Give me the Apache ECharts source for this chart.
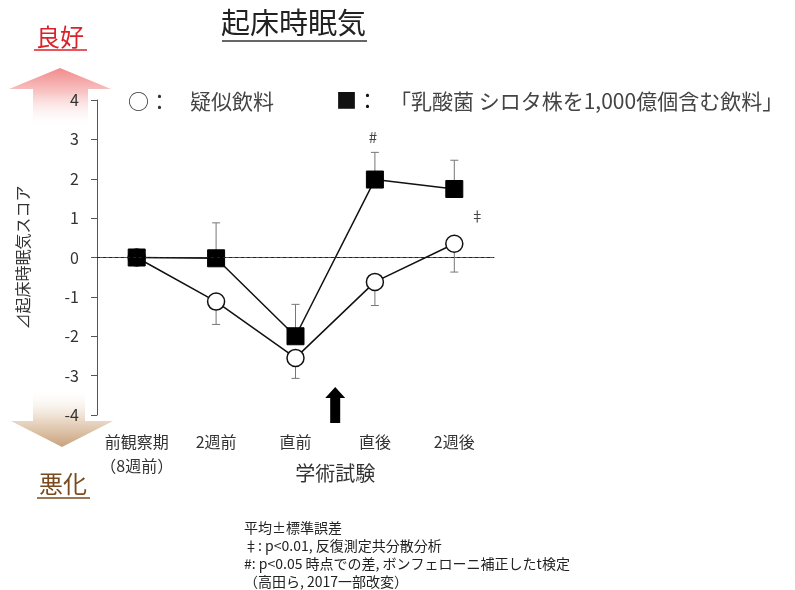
<!DOCTYPE html>
<html>
<head>
<meta charset="utf-8">
<script src="https://cdn.jsdelivr.net/npm/echarts@6/dist/echarts.min.js"></script>
<style>
html, body { margin: 0; background: #fff; }
#main { width: 795px; height: 590px; }
</style>
</head>
<body>
<div id="main"></div>
<script>
// データ
var categories = ['前観察期\n（8週前）', '2週前', '直前', '直後', '2週後'];
var placeboValues = [0, -1.12, -2.55, -0.62, 0.35];      // ○ 疑似飲料
var placeboErrLow = [null, -1.70, -3.07, -1.22, -0.37];   // 下側エラーバー
var shirotaValues = [0, -0.02, -2.0, 1.98, 1.74];         // ■ 乳酸菌飲料
var shirotaErrHigh = [null, 0.88, -1.19, 2.67, 2.47];     // 上側エラーバー
var yMin = -4, yMax = 4;
var FONT = '"Noto Sans CJK JP", "Noto Sans", sans-serif';

var chart = echarts.init(document.getElementById('main'));

// エラーバー描画 [x, 点, 端]
function errorBar(params, api) {
	var p1 = api.coord([api.value(0), api.value(1)]);
	var p2 = api.coord([api.value(0), api.value(2)]);
	var half = 4;
	return {
		type: 'group',
		children: [
			{ type: 'line', shape: { x1: p1[0], y1: p1[1], x2: p2[0], y2: p2[1] }, style: { stroke: '#777', lineWidth: 1 } },
			{ type: 'line', shape: { x1: p2[0] - half, y1: p2[1], x2: p2[0] + half, y2: p2[1] }, style: { stroke: '#777', lineWidth: 1 } }
		]
	};
}

function barData(vals, ends) {
	var out = [];
	for (var i = 0; i < vals.length; i++) {
		if (ends[i] !== null) out.push([i, vals[i], ends[i]]);
	}
	return out;
}

var option = {
	backgroundColor: '#fff',
	animation: false,
	textStyle: { fontFamily: FONT },
	grid: { left: 97, right: 301, top: 100, bottom: 175 },
	xAxis: {
		type: 'category',
		data: categories,
		axisLine: { lineStyle: { color: '#555', width: 1 } },
		axisTick: { length: 6, lineStyle: { color: '#555' } },
		axisLabel: { interval: 0, color: '#333', fontSize: 16, margin: 15, lineHeight: 24, fontFamily: FONT }
	},
	yAxis: {
		type: 'value',
		min: yMin,
		max: yMax,
		interval: 1,
		name: '⊿起床時眠気スコア',
		nameLocation: 'middle',
		nameGap: 66,
		nameTextStyle: { color: '#333', fontSize: 16, fontFamily: FONT },
		axisLine: { show: true, lineStyle: { color: '#555', width: 1 } },
		axisTick: { show: true, length: 6, lineStyle: { color: '#555' } },
		axisLabel: { color: '#333', fontSize: 16, margin: 18, fontFamily: FONT },
		splitLine: { show: false }
	},
	series: [
		{
			name: '疑似飲料エラー',
			type: 'custom',
			renderItem: errorBar,
			encode: { x: 0, y: [1, 2] },
			data: barData(placeboValues, placeboErrLow),
			z: 1
		},
		{
			name: '乳酸菌エラー',
			type: 'custom',
			renderItem: errorBar,
			encode: { x: 0, y: [1, 2] },
			data: barData(shirotaValues, shirotaErrHigh),
			z: 1
		},
		{
			name: '疑似飲料',
			type: 'line',
			data: placeboValues,
			symbol: 'circle',
			symbolSize: 17,
			lineStyle: { color: '#111', width: 1.5 },
			itemStyle: { color: '#fff', borderColor: '#111', borderWidth: 1.5 },
			z: 3,
			markLine: {
				silent: true,
				symbol: 'none',
				label: { show: false },
				lineStyle: { color: '#222', type: [3, 3], width: 1 },
				data: [{ yAxis: 0 }]
			}
		},
		{
			name: '乳酸菌飲料',
			type: 'line',
			data: shirotaValues,
			symbol: 'rect',
			symbolSize: 17,
			lineStyle: { color: '#111', width: 1.5 },
			itemStyle: { color: '#000', borderColor: '#000' },
			z: 4
		}
	]
};
chart.setOption(option);

// 注釈・装飾
var ax = chart.convertToPixel({ xAxisIndex: 0 }, 2);
var bx = chart.convertToPixel({ xAxisIndex: 0 }, 3);
var arrowX = (ax + bx) / 2;
var baseY = chart.convertToPixel({ yAxisIndex: 0 }, yMin);
var hashPos = chart.convertToPixel({ xAxisIndex: 0, yAxisIndex: 0 }, [3, shirotaErrHigh[3]]);
var ddagPos = chart.convertToPixel({ xAxisIndex: 0, yAxisIndex: 0 }, [4, 1.07]);

chart.setOption({
	graphic: [
		// タイトル
		{ type: 'text', left: 221, top: 8, style: { text: '起床時眠気', fill: '#222', font: '29px ' + FONT } },
		{ type: 'line', shape: { x1: 222, y1: 41, x2: 367, y2: 41 }, style: { stroke: '#333', lineWidth: 1.5 } },
		// 良好
		{ type: 'text', x: 60, y: 37, style: { text: '良好', font: '24px ' + FONT, fill: '#d9232b', align: 'center', verticalAlign: 'middle' } },
		{ type: 'line', shape: { x1: 34, y1: 50, x2: 87, y2: 50 }, style: { stroke: '#d9232b', lineWidth: 1.5 } },
		// 悪化
		{ type: 'text', x: 63, y: 484, style: { text: '悪化', font: '24px ' + FONT, fill: '#7a4a1e', align: 'center', verticalAlign: 'middle' } },
		{ type: 'line', shape: { x1: 37, y1: 498, x2: 90, y2: 498 }, style: { stroke: '#7a4a1e', lineWidth: 1.5 } },
		// 上向き矢印 (ピンク)
		{
			type: 'polygon', z: -1,
			shape: { points: [[60, 68], [111, 89], [88, 89], [88, 128], [33, 128], [33, 89], [9, 89]] },
			style: { fill: new echarts.graphic.LinearGradient(0, 0, 0, 1, [
				{ offset: 0, color: '#f28b8b' }, { offset: 0.4, color: '#f8c4c4' }, { offset: 1, color: 'rgba(255,255,255,0)' }]) }
		},
		// 下向き矢印 (茶)
		{
			type: 'polygon', z: -1,
			shape: { points: [[33, 388], [85, 388], [85, 421], [113, 421], [62, 447], [11, 421], [33, 421]] },
			style: { fill: new echarts.graphic.LinearGradient(0, 0, 0, 1, [
				{ offset: 0, color: 'rgba(255,255,255,0)' }, { offset: 0.55, color: '#ead8c5' }, { offset: 1, color: '#c9a27e' }]) }
		},
		// 凡例
		{ type: 'text', left: 128, top: 91, style: { text: '○：', font: '21px ' + FONT, fill: '#333' } },
		{ type: 'text', left: 190, top: 91, style: { text: '疑似飲料', font: '21px ' + FONT, fill: '#444' } },
		{ type: 'text', left: 336, top: 90, style: { text: '■：', font: '21px ' + FONT, fill: '#111' } },
		{ type: 'text', left: 390, top: 91, style: { text: '「乳酸菌 シロタ株を1,000億個含む飲料」', font: '21px ' + FONT, fill: '#444' } },
		// 有意差記号
		{ type: 'text', x: hashPos[0] - 2, y: hashPos[1] - 15, style: { text: '#', font: '15px ' + FONT, fill: '#444', align: 'center', verticalAlign: 'middle' } },
		{ type: 'text', x: ddagPos[0] + 23, y: ddagPos[1], style: { text: '‡', font: '14px ' + FONT, fill: '#444', align: 'center', verticalAlign: 'middle' } },
		// 学術試験の矢印
		{
			type: 'polygon', z: 10,
			shape: { points: [[arrowX, baseY - 28], [arrowX + 10, baseY - 17], [arrowX + 5, baseY - 17], [arrowX + 5, baseY + 8],
				[arrowX - 5, baseY + 8], [arrowX - 5, baseY - 17], [arrowX - 10, baseY - 17]] },
			style: { fill: '#000' }
		},
		{ type: 'text', x: arrowX, y: 473, style: { text: '学術試験', font: '20px ' + FONT, fill: '#333', align: 'center', verticalAlign: 'middle' } },
		// 脚注
		{ type: 'text', left: 244, top: 519, style: { text: '平均±標準誤差\n‡: p<0.01, 反復測定共分散分析\n#: p<0.05 時点での差, ボンフェローニ補正したt検定\n（高田ら, 2017一部改変）', font: '14px ' + FONT, lineHeight: 18, fill: '#222' } }
	]
});
window.onresize = chart.resize;
</script>
</body>
</html>
